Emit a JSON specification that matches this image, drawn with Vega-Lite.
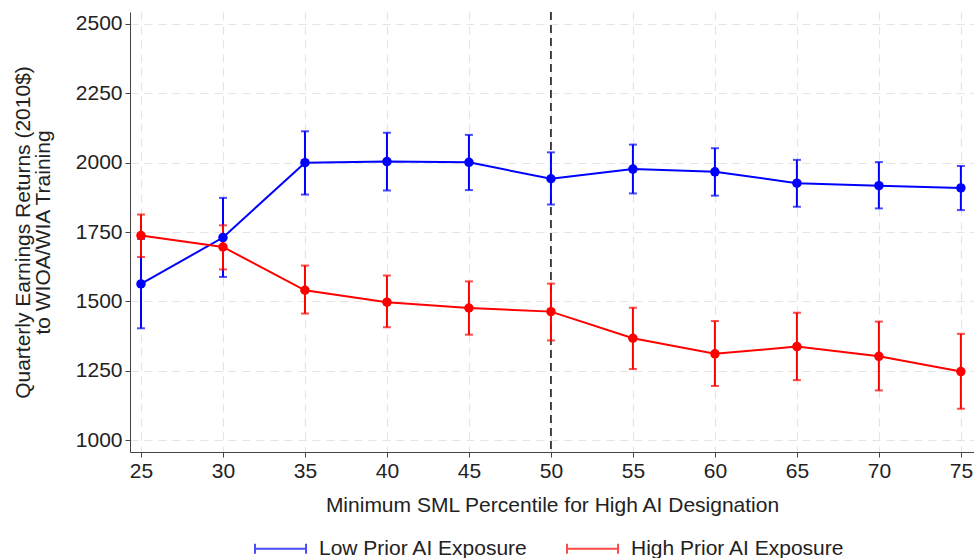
{
  "$schema": "https://vega.github.io/schema/vega-lite/v6.json",
  "autosize": "none",
  "width": 844,
  "height": 440,
  "padding": {"left": 130, "top": 12, "right": 0, "bottom": 106},
  "background": "white",
  "config": {
    "font": "Liberation Sans",
    "view": {"stroke": null},
    "axis": {
      "labelFont": "Liberation Sans", "titleFont": "Liberation Sans",
      "labelFontSize": 21, "titleFontSize": 21, "titleFontWeight": "normal",
      "labelColor": "#222222", "titleColor": "#222222",
      "domainColor": "#444444", "tickColor": "#444444", "tickSize": 5,
      "gridColor": "#e4e4e4", "gridDash": [8, 6], "gridWidth": 1.2
    }
  },
  "data": {"values": [
    {"x": 25, "series": "Low Prior AI Exposure", "est": 1563, "lo": 1403, "hi": 1725},
    {"x": 30, "series": "Low Prior AI Exposure", "est": 1730, "lo": 1588, "hi": 1873},
    {"x": 35, "series": "Low Prior AI Exposure", "est": 2000, "lo": 1885, "hi": 2113},
    {"x": 40, "series": "Low Prior AI Exposure", "est": 2004, "lo": 1900, "hi": 2108},
    {"x": 45, "series": "Low Prior AI Exposure", "est": 2001, "lo": 1901, "hi": 2100},
    {"x": 50, "series": "Low Prior AI Exposure", "est": 1942, "lo": 1849, "hi": 2037},
    {"x": 55, "series": "Low Prior AI Exposure", "est": 1977, "lo": 1889, "hi": 2065},
    {"x": 60, "series": "Low Prior AI Exposure", "est": 1967, "lo": 1881, "hi": 2052},
    {"x": 65, "series": "Low Prior AI Exposure", "est": 1926, "lo": 1841, "hi": 2010},
    {"x": 70, "series": "Low Prior AI Exposure", "est": 1917, "lo": 1835, "hi": 2002},
    {"x": 75, "series": "Low Prior AI Exposure", "est": 1909, "lo": 1829, "hi": 1988},
    {"x": 25, "series": "High Prior AI Exposure", "est": 1737, "lo": 1660, "hi": 1813},
    {"x": 30, "series": "High Prior AI Exposure", "est": 1696, "lo": 1615, "hi": 1774},
    {"x": 35, "series": "High Prior AI Exposure", "est": 1540, "lo": 1456, "hi": 1629},
    {"x": 40, "series": "High Prior AI Exposure", "est": 1497, "lo": 1407, "hi": 1593},
    {"x": 45, "series": "High Prior AI Exposure", "est": 1476, "lo": 1380, "hi": 1572},
    {"x": 50, "series": "High Prior AI Exposure", "est": 1463, "lo": 1359, "hi": 1564},
    {"x": 55, "series": "High Prior AI Exposure", "est": 1367, "lo": 1256, "hi": 1477},
    {"x": 60, "series": "High Prior AI Exposure", "est": 1311, "lo": 1195, "hi": 1429},
    {"x": 65, "series": "High Prior AI Exposure", "est": 1337, "lo": 1216, "hi": 1459},
    {"x": 70, "series": "High Prior AI Exposure", "est": 1302, "lo": 1179, "hi": 1427},
    {"x": 75, "series": "High Prior AI Exposure", "est": 1247, "lo": 1113, "hi": 1383}
  ]},
  "encoding": {
    "x": {"field": "x", "type": "quantitative",
      "scale": {"domain": [24.33, 75.8], "nice": false, "zero": false},
      "axis": {"values": [25, 30, 35, 40, 45, 50, 55, 60, 65, 70, 75], "format": "d", "title": "Minimum SML Percentile for High AI Designation", "titlePadding": 13, "labelPadding": 3}},
    "color": {"field": "series", "type": "nominal",
      "scale": {"domain": ["Low Prior AI Exposure", "High Prior AI Exposure"], "range": ["#0000ff", "#ff0000"]},
      "legend": {"orient": "none", "legendX": 124, "legendY": 510, "direction": "horizontal", "title": null,
        "symbolType": "M-1,0H1M-1,-0.2V0.2M1,-0.2V0.2", "symbolSize": 2601, "symbolStrokeWidth": 2, "symbolFillColor": "transparent",
        "labelFontSize": 21, "labelFont": "Liberation Sans", "labelColor": "#222222", "labelLimit": 500, "columnPadding": 35, "labelOffset": 12, "padding": 0}}
  },
  "layer": [
    {
      "mark": {"type": "rule", "color": "#333333", "strokeDash": [8, 5], "strokeWidth": 1.8},
      "data": {"values": [{"v": 50}]},
      "encoding": {"x": {"field": "v", "type": "quantitative"}, "color": {"value": "#333333"}}
    },
    {
      "mark": {"type": "rule", "strokeWidth": 2},
      "encoding": {
        "y": {"field": "lo", "type": "quantitative",
          "scale": {"domain": [957, 2543], "nice": false, "zero": false},
          "axis": {"values": [1000, 1250, 1500, 1750, 2000, 2250, 2500], "format": "d", "title": ["Quarterly Earnings Returns (2010$)", "to WIOA/WIA Training"], "titlePadding": 22, "labelPadding": 3, "titleLineHeight": 20}},
        "y2": {"field": "hi"}
      }
    },
    {
      "mark": {"type": "tick", "orient": "horizontal", "size": 8, "thickness": 2},
      "encoding": {"y": {"field": "lo", "type": "quantitative"}}
    },
    {
      "mark": {"type": "tick", "orient": "horizontal", "size": 8, "thickness": 2},
      "encoding": {"y": {"field": "hi", "type": "quantitative"}}
    },
    {
      "mark": {"type": "line", "strokeWidth": 2},
      "encoding": {"y": {"field": "est", "type": "quantitative"}}
    },
    {
      "mark": {"type": "point", "filled": true, "size": 90, "opacity": 1},
      "encoding": {"y": {"field": "est", "type": "quantitative"}}
    }
  ]
}
